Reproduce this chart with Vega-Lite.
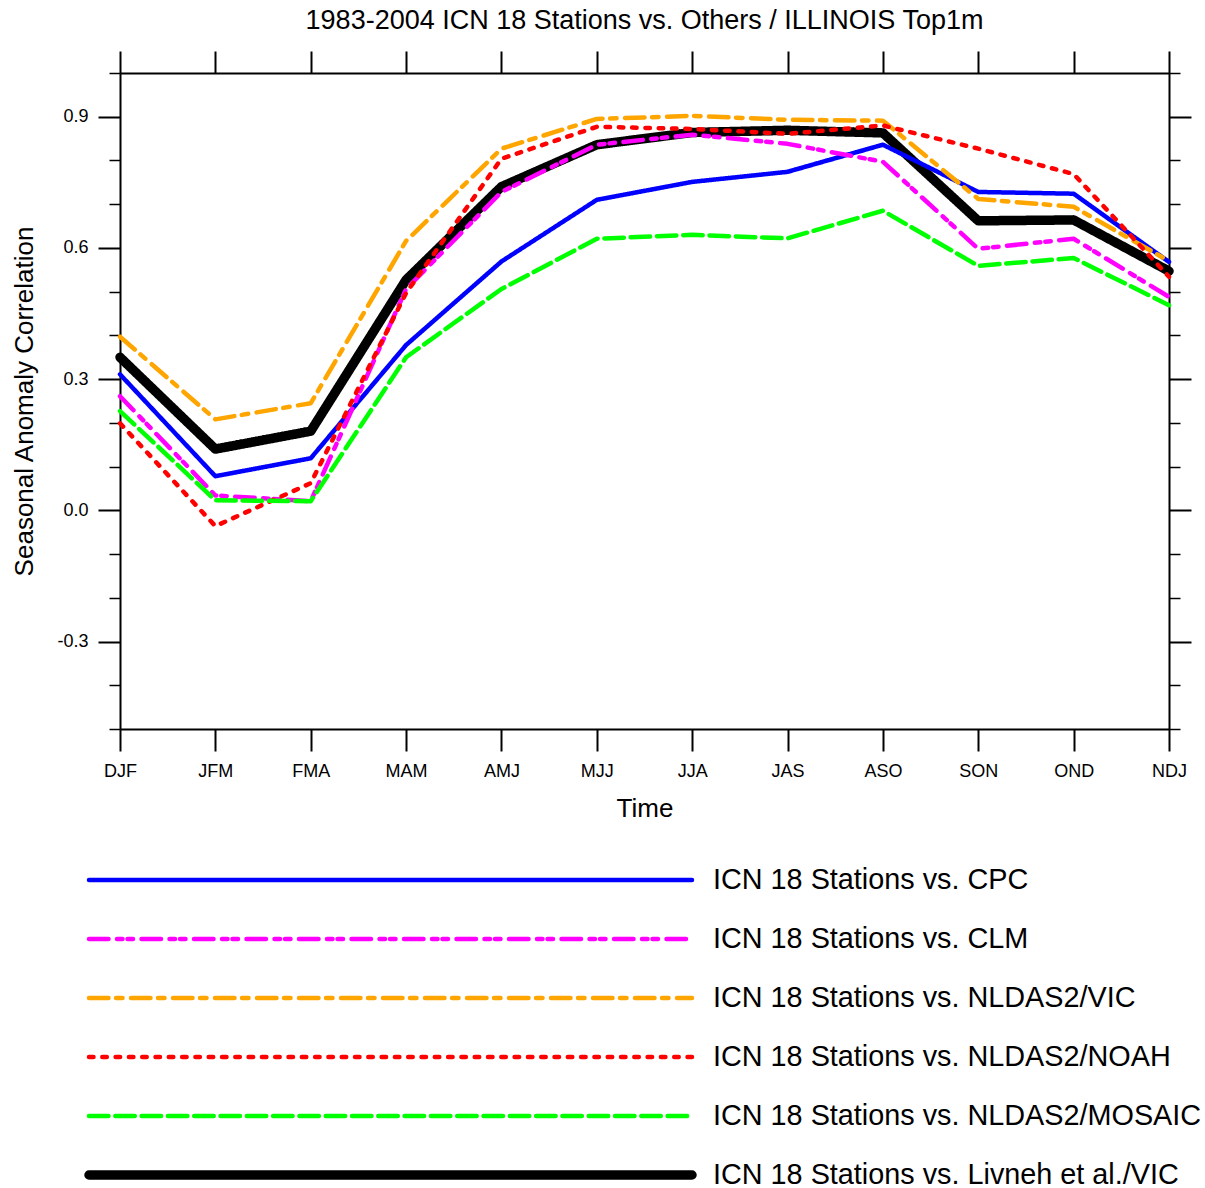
{
  "$schema": "https://vega.github.io/schema/vega-lite/v6.json",
  "width": 1049,
  "height": 656,
  "autosize": {"type": "none"},
  "padding": {"left": 120, "top": 73, "right": 36, "bottom": 459},
  "background": "white",
  "config": {
    "font": "Liberation Sans",
    "view": {"stroke": null},
    "axis": {"domainColor": "black", "domainWidth": 2, "tickColor": "black", "labelColor": "black", "titleColor": "black", "grid": false, "labelFont": "Liberation Sans", "titleFont": "Liberation Sans", "titleFontWeight": "normal"}
  },
  "title": {"text": "1983-2004 ICN 18 Stations vs. Others / ILLINOIS Top1m", "fontSize": 27, "fontWeight": "normal", "font": "Liberation Sans", "color": "black", "offset": 15},
  "data": {"values": [
    {"s": "ICN 18 Stations vs. Livneh et al./VIC", "t": "DJF", "v": 0.350},
    {"s": "ICN 18 Stations vs. Livneh et al./VIC", "t": "JFM", "v": 0.140},
    {"s": "ICN 18 Stations vs. Livneh et al./VIC", "t": "FMA", "v": 0.181},
    {"s": "ICN 18 Stations vs. Livneh et al./VIC", "t": "MAM", "v": 0.527},
    {"s": "ICN 18 Stations vs. Livneh et al./VIC", "t": "AMJ", "v": 0.740},
    {"s": "ICN 18 Stations vs. Livneh et al./VIC", "t": "MJJ", "v": 0.836},
    {"s": "ICN 18 Stations vs. Livneh et al./VIC", "t": "JJA", "v": 0.864},
    {"s": "ICN 18 Stations vs. Livneh et al./VIC", "t": "JAS", "v": 0.869},
    {"s": "ICN 18 Stations vs. Livneh et al./VIC", "t": "ASO", "v": 0.863},
    {"s": "ICN 18 Stations vs. Livneh et al./VIC", "t": "SON", "v": 0.662},
    {"s": "ICN 18 Stations vs. Livneh et al./VIC", "t": "OND", "v": 0.664},
    {"s": "ICN 18 Stations vs. Livneh et al./VIC", "t": "NDJ", "v": 0.547},
    {"s": "ICN 18 Stations vs. CPC", "t": "DJF", "v": 0.311},
    {"s": "ICN 18 Stations vs. CPC", "t": "JFM", "v": 0.078},
    {"s": "ICN 18 Stations vs. CPC", "t": "FMA", "v": 0.119},
    {"s": "ICN 18 Stations vs. CPC", "t": "MAM", "v": 0.378},
    {"s": "ICN 18 Stations vs. CPC", "t": "AMJ", "v": 0.569},
    {"s": "ICN 18 Stations vs. CPC", "t": "MJJ", "v": 0.710},
    {"s": "ICN 18 Stations vs. CPC", "t": "JJA", "v": 0.751},
    {"s": "ICN 18 Stations vs. CPC", "t": "JAS", "v": 0.774},
    {"s": "ICN 18 Stations vs. CPC", "t": "ASO", "v": 0.836},
    {"s": "ICN 18 Stations vs. CPC", "t": "SON", "v": 0.728},
    {"s": "ICN 18 Stations vs. CPC", "t": "OND", "v": 0.724},
    {"s": "ICN 18 Stations vs. CPC", "t": "NDJ", "v": 0.568},
    {"s": "ICN 18 Stations vs. CLM", "t": "DJF", "v": 0.261},
    {"s": "ICN 18 Stations vs. CLM", "t": "JFM", "v": 0.034},
    {"s": "ICN 18 Stations vs. CLM", "t": "FMA", "v": 0.021},
    {"s": "ICN 18 Stations vs. CLM", "t": "MAM", "v": 0.506},
    {"s": "ICN 18 Stations vs. CLM", "t": "AMJ", "v": 0.728},
    {"s": "ICN 18 Stations vs. CLM", "t": "MJJ", "v": 0.836},
    {"s": "ICN 18 Stations vs. CLM", "t": "JJA", "v": 0.859},
    {"s": "ICN 18 Stations vs. CLM", "t": "JAS", "v": 0.838},
    {"s": "ICN 18 Stations vs. CLM", "t": "ASO", "v": 0.797},
    {"s": "ICN 18 Stations vs. CLM", "t": "SON", "v": 0.598},
    {"s": "ICN 18 Stations vs. CLM", "t": "OND", "v": 0.621},
    {"s": "ICN 18 Stations vs. CLM", "t": "NDJ", "v": 0.488},
    {"s": "ICN 18 Stations vs. NLDAS2/VIC", "t": "DJF", "v": 0.397},
    {"s": "ICN 18 Stations vs. NLDAS2/VIC", "t": "JFM", "v": 0.208},
    {"s": "ICN 18 Stations vs. NLDAS2/VIC", "t": "FMA", "v": 0.245},
    {"s": "ICN 18 Stations vs. NLDAS2/VIC", "t": "MAM", "v": 0.616},
    {"s": "ICN 18 Stations vs. NLDAS2/VIC", "t": "AMJ", "v": 0.827},
    {"s": "ICN 18 Stations vs. NLDAS2/VIC", "t": "MJJ", "v": 0.895},
    {"s": "ICN 18 Stations vs. NLDAS2/VIC", "t": "JJA", "v": 0.902},
    {"s": "ICN 18 Stations vs. NLDAS2/VIC", "t": "JAS", "v": 0.893},
    {"s": "ICN 18 Stations vs. NLDAS2/VIC", "t": "ASO", "v": 0.891},
    {"s": "ICN 18 Stations vs. NLDAS2/VIC", "t": "SON", "v": 0.712},
    {"s": "ICN 18 Stations vs. NLDAS2/VIC", "t": "OND", "v": 0.694},
    {"s": "ICN 18 Stations vs. NLDAS2/VIC", "t": "NDJ", "v": 0.570},
    {"s": "ICN 18 Stations vs. NLDAS2/NOAH", "t": "DJF", "v": 0.199},
    {"s": "ICN 18 Stations vs. NLDAS2/NOAH", "t": "JFM", "v": -0.036},
    {"s": "ICN 18 Stations vs. NLDAS2/NOAH", "t": "FMA", "v": 0.062},
    {"s": "ICN 18 Stations vs. NLDAS2/NOAH", "t": "MAM", "v": 0.497},
    {"s": "ICN 18 Stations vs. NLDAS2/NOAH", "t": "AMJ", "v": 0.804},
    {"s": "ICN 18 Stations vs. NLDAS2/NOAH", "t": "MJJ", "v": 0.877},
    {"s": "ICN 18 Stations vs. NLDAS2/NOAH", "t": "JJA", "v": 0.872},
    {"s": "ICN 18 Stations vs. NLDAS2/NOAH", "t": "JAS", "v": 0.861},
    {"s": "ICN 18 Stations vs. NLDAS2/NOAH", "t": "ASO", "v": 0.880},
    {"s": "ICN 18 Stations vs. NLDAS2/NOAH", "t": "SON", "v": 0.827},
    {"s": "ICN 18 Stations vs. NLDAS2/NOAH", "t": "OND", "v": 0.769},
    {"s": "ICN 18 Stations vs. NLDAS2/NOAH", "t": "NDJ", "v": 0.534},
    {"s": "ICN 18 Stations vs. NLDAS2/MOSAIC", "t": "DJF", "v": 0.227},
    {"s": "ICN 18 Stations vs. NLDAS2/MOSAIC", "t": "JFM", "v": 0.023},
    {"s": "ICN 18 Stations vs. NLDAS2/MOSAIC", "t": "FMA", "v": 0.021},
    {"s": "ICN 18 Stations vs. NLDAS2/MOSAIC", "t": "MAM", "v": 0.350},
    {"s": "ICN 18 Stations vs. NLDAS2/MOSAIC", "t": "AMJ", "v": 0.506},
    {"s": "ICN 18 Stations vs. NLDAS2/MOSAIC", "t": "MJJ", "v": 0.621},
    {"s": "ICN 18 Stations vs. NLDAS2/MOSAIC", "t": "JJA", "v": 0.630},
    {"s": "ICN 18 Stations vs. NLDAS2/MOSAIC", "t": "JAS", "v": 0.622},
    {"s": "ICN 18 Stations vs. NLDAS2/MOSAIC", "t": "ASO", "v": 0.685},
    {"s": "ICN 18 Stations vs. NLDAS2/MOSAIC", "t": "SON", "v": 0.559},
    {"s": "ICN 18 Stations vs. NLDAS2/MOSAIC", "t": "OND", "v": 0.577},
    {"s": "ICN 18 Stations vs. NLDAS2/MOSAIC", "t": "NDJ", "v": 0.469}
  ]},
  "resolve": {"axis": {"x": "independent", "y": "independent"}},
  "layer": [
    {
      "mark": {"type": "line", "strokeCap": "round", "strokeJoin": "round"},
      "encoding": {
        "x": {"field": "t", "type": "ordinal", "sort": ["DJF","JFM","FMA","MAM","AMJ","MJJ","JJA","JAS","ASO","SON","OND","NDJ"],
              "scale": {"type": "point", "padding": 0},
              "axis": {"orient": "bottom", "title": "Time", "titleFontSize": 26, "titlePadding": 15, "labelFontSize": 18, "labelPadding": 11, "labelAngle": 0, "tickSize": 22, "tickWidth": 2}},
        "y": {"field": "v", "type": "quantitative", "scale": {"domain": [-0.5, 1.0], "nice": false, "zero": false},
              "axis": {"orient": "left", "title": "Seasonal Anomaly Correlation", "titleFontSize": 26, "titlePadding": 19, "labelFontSize": 18, "labelPadding": 10,
                       "values": [-0.5,-0.4,-0.3,-0.2,-0.1,0,0.1,0.2,0.3,0.4,0.5,0.6,0.7,0.8,0.9,1.0],
                       "labelExpr": "abs(round(datum.value*10)) % 3 == 0 && abs(datum.value) < 0.95 ? replace(format(datum.value, '.1f'), '\u2212', '-') : ''",
                       "tickSize": {"condition": {"test": "abs(round(datum.value*10)) % 3 == 0 && abs(datum.value) < 0.95", "value": 22}, "value": 11},
                       "tickWidth": {"condition": {"test": "abs(round(datum.value*10)) % 3 == 0 && abs(datum.value) < 0.95", "value": 2}, "value": 1.5}}},
        "color": {"field": "s", "type": "nominal",
                  "scale": {"domain": ["ICN 18 Stations vs. CPC","ICN 18 Stations vs. CLM","ICN 18 Stations vs. NLDAS2/VIC","ICN 18 Stations vs. NLDAS2/NOAH","ICN 18 Stations vs. NLDAS2/MOSAIC","ICN 18 Stations vs. Livneh et al./VIC"],
                            "range": ["#0000ff","#ff00ff","#ffa500","#ff0000","#00ff00","#000000"]},
                  "legend": {"orient": "none", "legendX": -36, "legendY": 792, "title": null, "symbolType": "stroke", "symbolSize": 363609, "labelFontSize": 28.8, "labelFont": "Liberation Sans", "labelColor": "black", "labelLimit": 800, "labelOffset": 16, "clipHeight": 30, "rowPadding": 29, "padding": 0, "symbolOpacity": 1,
                             "encode": {"symbols": {"update": {"strokeCap": {"value": "round"}}}}}},
        "strokeDash": {"field": "s", "type": "nominal",
                  "scale": {"domain": ["ICN 18 Stations vs. CPC","ICN 18 Stations vs. CLM","ICN 18 Stations vs. NLDAS2/VIC","ICN 18 Stations vs. NLDAS2/NOAH","ICN 18 Stations vs. NLDAS2/MOSAIC","ICN 18 Stations vs. Livneh et al./VIC"],
                            "range": [[1,0],[19.5,8.5,5.5,5,5.5,8.5],[19.5,7.5,6.5,8.5],[4.5,8.8],[19.5,6.8],[1,0]]}},
        "strokeWidth": {"field": "s", "type": "nominal",
                  "scale": {"type": "ordinal", "domain": ["ICN 18 Stations vs. CPC","ICN 18 Stations vs. CLM","ICN 18 Stations vs. NLDAS2/VIC","ICN 18 Stations vs. NLDAS2/NOAH","ICN 18 Stations vs. NLDAS2/MOSAIC","ICN 18 Stations vs. Livneh et al./VIC"],
                            "range": [4.5,4.5,4.5,4.5,4.5,9.5]}}
      }
    },
    {
      "mark": {"type": "point", "opacity": 0},
      "encoding": {
        "x": {"field": "t", "type": "ordinal", "sort": ["DJF","JFM","FMA","MAM","AMJ","MJJ","JJA","JAS","ASO","SON","OND","NDJ"],
              "axis": {"orient": "top", "title": null, "labels": false, "tickSize": 22, "tickWidth": 2}},
        "y": {"field": "v", "type": "quantitative",
              "axis": {"orient": "right", "title": null, "labels": false,
                       "values": [-0.5,-0.4,-0.3,-0.2,-0.1,0,0.1,0.2,0.3,0.4,0.5,0.6,0.7,0.8,0.9,1.0],
                       "tickSize": {"condition": {"test": "abs(round(datum.value*10)) % 3 == 0 && abs(datum.value) < 0.95", "value": 22}, "value": 11},
                       "tickWidth": {"condition": {"test": "abs(round(datum.value*10)) % 3 == 0 && abs(datum.value) < 0.95", "value": 2}, "value": 1.5}}}
      }
    }
  ]
}
